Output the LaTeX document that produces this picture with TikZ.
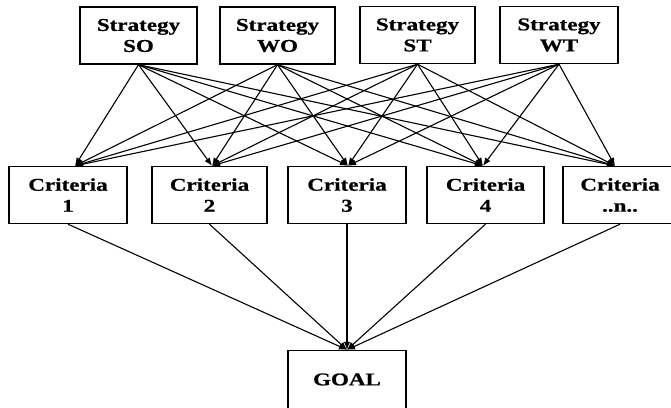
\documentclass[tikz,border=0pt]{standalone}
\usepackage{fontspec}
\setmainfont[FakeStretch=1.28,FakeBold=0.6]{Liberation Serif}
\usetikzlibrary{arrows.meta,calc}
\begin{document}
\begin{tikzpicture}[x=1pt,y=-1pt,
  box/.style={draw=black,line width=1.4pt,fill=white,align=center,inner sep=0pt,
    minimum height=57pt,font=\fontsize{18}{21}\selectfont\bfseries},
  link/.style={line width=1.1pt,-{Latex[length=8pt,width=6.5pt]}}]
\fill[white] (0,0) rectangle (671,407);
\useasboundingbox (0,0) rectangle (671,407);
% strategies
\node[box,minimum width=117pt] (so) at (138.5,35.5) {Strategy\\SO};
\node[box,minimum width=115pt] (wo) at (277.5,35.5) {Strategy\\WO};
\node[box,minimum width=115pt] (st) at (417.5,35) {Strategy\\ST};
\node[box,minimum width=118pt] (wt) at (559,35) {Strategy\\WT};
% criteria
\node[box,minimum width=118pt] (c1) at (68,195) {Criteria\\1};
\node[box,minimum width=115pt] (c2) at (209.5,195) {Criteria\\2};
\node[box,minimum width=118pt] (c3) at (347,195) {Criteria\\3};
\node[box,minimum width=117pt] (c4) at (485.5,195) {Criteria\\4};
\node[box,minimum width=114pt] (cn) at (620,195) {Criteria\\..n..};
% goal
\node[box,minimum width=118pt,minimum height=58pt] (goal) at (347,379.5) {GOAL};
% arrow targets
\coordinate (t1) at ($(c1.north)+(7,0)$);
\coordinate (t2) at ($(c2.north)+(2.5,0)$);
\coordinate (t3) at ($(c3.north)+(1,0)$);
\coordinate (t4) at ($(c4.north)+(-2.5,0)$);
\coordinate (t5) at ($(cn.north)+(-5,0)$);
\foreach \s in {so,wo,st,wt}{
  \foreach \t in {t1,t2,t3,t4,t5}{
    \draw[link] (\s.south) -- (\t);
  }
}
\foreach \c in {c1,c2,c3,c4,cn}{
  \draw[link] (\c.south) -- (goal.north);
}
\end{tikzpicture}
\end{document}
